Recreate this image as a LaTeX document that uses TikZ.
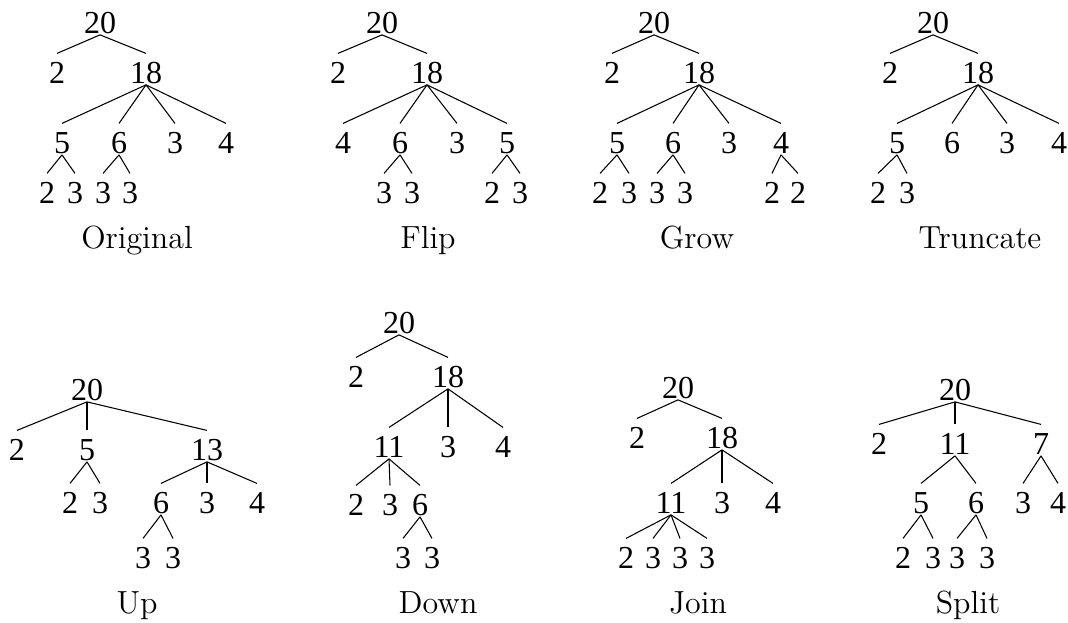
\documentclass[tikz,border=0pt]{standalone}
\usepackage{fontspec}
\usepackage{tikz}
\newfontfamily\numfont{Liberation Serif}

\tikzset{
  num/.style={anchor=base, inner xsep=0pt, inner ysep=0.5pt,
    text height=10.4pt, text depth=0pt, font=\numfont\fontsize{12}{14}\selectfont},
  treecap/.style={anchor=base, font=\fontsize{12}{14}\selectfont}
}

\begin{document}
\begin{tikzpicture}[x=0.375pt, y=-0.375pt, thin]
\useasboundingbox (0,0) rectangle (1068,622);

% Original
\node[num] (o) at (100,33) {20};
\node[num] (o-a) at (57,83) {2};
\node[num] (o-b) at (146,83) {18};
\node[num] (o-ba) at (62,153) {5};
\node[num] (o-bb) at (119,153) {6};
\node[num] (o-bc) at (175,153) {3};
\node[num] (o-bd) at (226,153) {4};
\node[num] (o-baa) at (47,203) {2};
\node[num] (o-bab) at (75,203) {3};
\node[num] (o-bba) at (103,203) {3};
\node[num] (o-bbb) at (130,203) {3};
\node[treecap] (o-cap) at (137,248) {Original};
\foreach \p/\c in {o/o-a, o/o-b, o-b/o-ba, o-b/o-bb, o-b/o-bc, o-b/o-bd,
    o-ba/o-baa, o-ba/o-bab, o-bb/o-bba, o-bb/o-bbb}
  \draw (\p.south) -- (\c.north);

% Flip
\node[num] (f) at (382,33) {20};
\node[num] (f-a) at (338,83) {2};
\node[num] (f-b) at (427,83) {18};
\node[num] (f-ba) at (343,153) {4};
\node[num] (f-bb) at (400,153) {6};
\node[num] (f-bc) at (457,153) {3};
\node[num] (f-bd) at (507,153) {5};
\node[num] (f-bba) at (384,203) {3};
\node[num] (f-bbb) at (412,203) {3};
\node[num] (f-bda) at (492,203) {2};
\node[num] (f-bdb) at (520,203) {3};
\node[treecap] (f-cap) at (428,248) {Flip};
\foreach \p/\c in {f/f-a, f/f-b, f-b/f-ba, f-b/f-bb, f-b/f-bc, f-b/f-bd,
    f-bb/f-bba, f-bb/f-bbb, f-bd/f-bda, f-bd/f-bdb}
  \draw (\p.south) -- (\c.north);

% Grow
\node[num] (g) at (654,33) {20};
\node[num] (g-a) at (612,83) {2};
\node[num] (g-b) at (699,83) {18};
\node[num] (g-ba) at (617,153) {5};
\node[num] (g-bb) at (673,153) {6};
\node[num] (g-bc) at (729,153) {3};
\node[num] (g-bd) at (781,153) {4};
\node[num] (g-baa) at (600,203) {2};
\node[num] (g-bab) at (629,203) {3};
\node[num] (g-bba) at (657,203) {3};
\node[num] (g-bbb) at (685,203) {3};
\node[num] (g-bda) at (772,203) {2};
\node[num] (g-bdb) at (798,203) {2};
\node[treecap] (g-cap) at (697,248) {Grow};
\foreach \p/\c in {g/g-a, g/g-b, g-b/g-ba, g-b/g-bb, g-b/g-bc, g-b/g-bd,
    g-ba/g-baa, g-ba/g-bab, g-bb/g-bba, g-bb/g-bbb, g-bd/g-bda, g-bd/g-bdb}
  \draw (\p.south) -- (\c.north);

% Truncate
\node[num] (t) at (933,33) {20};
\node[num] (t-a) at (890,83) {2};
\node[num] (t-b) at (978,83) {18};
\node[num] (t-ba) at (897,153) {5};
\node[num] (t-bb) at (952,153) {6};
\node[num] (t-bc) at (1007,153) {3};
\node[num] (t-bd) at (1059,153) {4};
\node[num] (t-baa) at (878,203) {2};
\node[num] (t-bab) at (907,203) {3};
\node[treecap] (t-cap) at (980,248) {Truncate};
\foreach \p/\c in {t/t-a, t/t-b, t-b/t-ba, t-b/t-bb, t-b/t-bc, t-b/t-bd,
    t-ba/t-baa, t-ba/t-bab}
  \draw (\p.south) -- (\c.north);

% Up
\node[num] (u) at (87,400) {20};
\node[num] (u-a) at (17,460) {2};
\node[num] (u-b) at (87,460) {5};
\node[num] (u-c) at (207,460) {13};
\node[num] (u-ba) at (70,513) {2};
\node[num] (u-bb) at (100,513) {3};
\node[num] (u-ca) at (161,513) {6};
\node[num] (u-cb) at (207,513) {3};
\node[num] (u-cc) at (257,513) {4};
\node[num] (u-caa) at (143,568) {3};
\node[num] (u-cab) at (173,568) {3};
\node[treecap] (u-cap) at (137,613) {Up};
\foreach \p/\c in {u/u-a, u/u-b, u/u-c, u-b/u-ba, u-b/u-bb,
    u-c/u-ca, u-c/u-cb, u-c/u-cc, u-ca/u-caa, u-ca/u-cab}
  \draw (\p.south) -- (\c.north);

% Down
\node[num] (d) at (399,333) {20};
\node[num] (d-a) at (356,387) {2};
\node[num] (d-b) at (448,387) {18};
\node[num] (d-ba) at (389,457) {11};
\node[num] (d-bb) at (448,457) {3};
\node[num] (d-bc) at (503,457) {4};
\node[num] (d-baa) at (356,515) {2};
\node[num] (d-bab) at (390,515) {3};
\node[num] (d-bac) at (420,515) {6};
\node[num] (d-baca) at (403,568) {3};
\node[num] (d-bacb) at (432,568) {3};
\node[treecap] (d-cap) at (438,613) {Down};
\foreach \p/\c in {d/d-a, d/d-b, d-b/d-ba, d-b/d-bb, d-b/d-bc,
    d-ba/d-baa, d-ba/d-bab, d-ba/d-bac, d-bac/d-baca, d-bac/d-bacb}
  \draw (\p.south) -- (\c.north);

% Join
\node[num] (j) at (678,398) {20};
\node[num] (j-a) at (637,448) {2};
\node[num] (j-b) at (722,448) {18};
\node[num] (j-ba) at (671,513) {11};
\node[num] (j-bb) at (722,513) {3};
\node[num] (j-bc) at (773,513) {4};
\node[num] (j-baa) at (626,568) {2};
\node[num] (j-bab) at (653,568) {3};
\node[num] (j-bac) at (680,568) {3};
\node[num] (j-bad) at (707,568) {3};
\node[treecap] (j-cap) at (698,613) {Join};
\foreach \p/\c in {j/j-a, j/j-b, j-b/j-ba, j-b/j-bb, j-b/j-bc,
    j-ba/j-baa, j-ba/j-bab, j-ba/j-bac, j-ba/j-bad}
  \draw (\p.south) -- (\c.north);

% Split
\node[num] (s) at (955,400) {20};
\node[num] (s-a) at (879,454) {2};
\node[num] (s-b) at (955,454) {11};
\node[num] (s-c) at (1041,454) {7};
\node[num] (s-ba) at (921,513) {5};
\node[num] (s-bb) at (976,513) {6};
\node[num] (s-ca) at (1023,513) {3};
\node[num] (s-cb) at (1058,513) {4};
\node[num] (s-baa) at (903,568) {2};
\node[num] (s-bab) at (933,568) {3};
\node[num] (s-bba) at (957,568) {3};
\node[num] (s-bbb) at (987,568) {3};
\node[treecap] (s-cap) at (968,613) {Split};
\foreach \p/\c in {s/s-a, s/s-b, s/s-c, s-b/s-ba, s-b/s-bb, s-c/s-ca, s-c/s-cb,
    s-ba/s-baa, s-ba/s-bab, s-bb/s-bba, s-bb/s-bbb}
  \draw (\p.south) -- (\c.north);
\end{tikzpicture}
\end{document}
